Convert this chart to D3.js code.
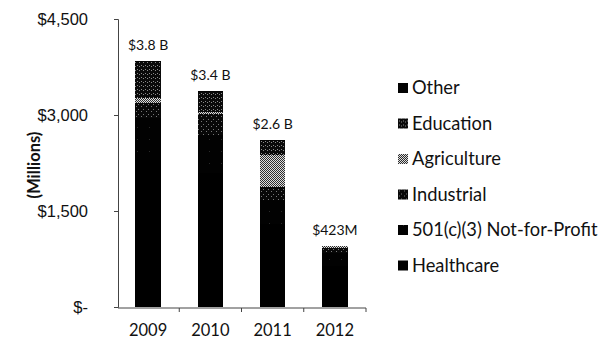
<!DOCTYPE html>
<html>
<head>
<meta charset="utf-8">
<script src="https://cdn.jsdelivr.net/npm/d3@7"></script>
<style>
  html, body { margin: 0; padding: 0; background: #fff; }
  svg { display: block; font-family: Lato, "Open Sans", sans-serif; }
</style>
</head>
<body>
<svg id="chart" width="603" height="345"></svg>
<script>
// Funding by sector, in millions of dollars (stacked bottom to top)
const years = ["2009", "2010", "2011", "2012"];
const sectors = ["Healthcare", "501(c)(3) Not-for-Profit", "Industrial", "Agriculture", "Education", "Other"];
const healthcare = [2300, 2100, 1300, 640];
const notForProfit = [650, 590, 370, 200];
const industrial = [235, 330, 203, 78];
const agriculture = [80, 30, 500, 30];
const education = [560, 310, 219, 6];
const other = [25, 20, 15, 4];
const totalLabels = ["$3.8 B", "$3.4 B", "$2.6 B", "$423M"];
const yTicks = [0, 1500, 3000, 4500];
const yTickLabels = ["$-", "$1,500", "$3,000", "$4,500"];

const seriesValues = [healthcare, notForProfit, industrial, agriculture, education, other];
const rows = years.map((yr, i) => {
  const r = { year: yr };
  sectors.forEach((s, k) => { r[s] = seriesValues[k][i]; });
  return r;
});

const svg = d3.select("#chart");

// Halftone-style fills for each sector
const defs = svg.append("defs");
function dotPattern(id, size, bg, dots, dotColor) {
  const p = defs.append("pattern").attr("id", id)
    .attr("patternUnits", "userSpaceOnUse").attr("width", size).attr("height", size);
  p.append("rect").attr("width", size).attr("height", size).attr("fill", bg);
  dots.forEach(([dx, dy]) => p.append("rect").attr("x", dx).attr("y", dy)
    .attr("width", 1).attr("height", 1).attr("fill", dotColor));
}
dotPattern("p-other", 4, "#030303", [], "#fff");
dotPattern("p-edu", 4, "#0a0a0a", [[1, 1], [3, 2]], "#8a8a8a");
dotPattern("p-agri", 2, "#dedede", [[0, 0], [1, 1]], "#2e2e2e");
dotPattern("p-ind", 5, "#080808", [[1, 1], [3, 4]], "#777");
dotPattern("p-npo", 12, "#020202", [[5, 7]], "#2a2a2a");
dotPattern("p-health", 4, "#000", [], "#000");

const fills = d3.scaleOrdinal()
  .domain(sectors)
  .range(["url(#p-health)", "url(#p-npo)", "url(#p-ind)", "url(#p-agri)", "url(#p-edu)", "url(#p-other)"]);

const x = d3.scaleBand().domain(years).range([117, 366]).padding(0);
const y = d3.scaleLinear().domain([0, 4500]).range([307, 19]);
const barW = x.bandwidth() * 0.41;

const stack = d3.stack().keys(sectors)(rows);

// Bars
const g = svg.append("g").attr("shape-rendering", "crispEdges");
g.selectAll("g.layer").data(stack).join("g")
  .attr("class", "layer")
  .attr("fill", d => fills(d.key))
  .selectAll("rect").data(d => d).join("rect")
  .attr("x", d => x(d.data.year) + (x.bandwidth() - barW) / 2)
  .attr("width", barW)
  .attr("y", d => y(d[1]))
  .attr("height", d => y(d[0]) - y(d[1]));

// Totals above bars
const topLayer = stack[stack.length - 1];
svg.append("g").selectAll("text").data(topLayer).join("text")
  .attr("x", d => x(d.data.year) + x.bandwidth() / 2)
  .attr("y", d => y(d[1]) - 11)
  .attr("text-anchor", "middle")
  .attr("font-size", 14)
  .attr("fill", "#111")
  .text((d, i) => totalLabels[i]);

// Y axis
const yAxis = d3.axisLeft(y).tickValues(yTicks)
  .tickFormat((d, i) => yTickLabels[i]).tickSize(4).tickPadding(26);
const ya = svg.append("g").attr("transform", "translate(118,0)").call(yAxis);
ya.select(".domain").attr("stroke", "#444");
ya.selectAll(".tick line").attr("stroke", "#444");
ya.selectAll("text").attr("font-size", 16.5).attr("fill", "#111");

// X axis with ticks at category boundaries
const xa = svg.append("g").attr("transform", "translate(0,308)");
xa.append("line").attr("x1", 118).attr("x2", x.range()[1]).attr("stroke", "#444");
xa.selectAll("line.tk").data(years).join("line").attr("class", "tk")
  .attr("x1", d => x(d) + x.bandwidth()).attr("x2", d => x(d) + x.bandwidth())
  .attr("y1", 0).attr("y2", 4).attr("stroke", "#444");
xa.selectAll("text").data(years).join("text")
  .attr("x", d => x(d) + x.bandwidth() / 2)
  .attr("y", 28)
  .attr("text-anchor", "middle")
  .attr("font-size", 16.5)
  .attr("fill", "#111")
  .text(d => d);

// Axis title
svg.append("text")
  .attr("transform", "translate(40,165) rotate(-90)")
  .attr("text-anchor", "middle")
  .attr("font-size", 16.5)
  .attr("font-weight", "bold")
  .attr("fill", "#111")
  .text("(Millions)");

// Legend, listed top sector first
const legendOrder = sectors.slice().reverse();
const lg = svg.append("g").selectAll("g").data(legendOrder).join("g")
  .attr("transform", (d, i) => `translate(398,${88 + i * 35.5})`);
lg.append("rect").attr("x", 0).attr("y", -5).attr("width", 10).attr("height", 10)
  .attr("fill", d => fills(d));
lg.append("text").attr("x", 14).attr("y", 0).attr("dy", "0.35em")
  .attr("font-size", 18.3).attr("fill", "#111")
  .text(d => d);
</script>
</body>
</html>
